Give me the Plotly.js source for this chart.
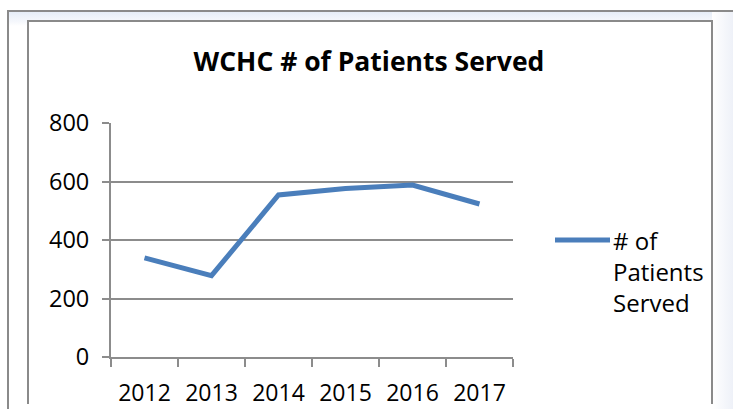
<!DOCTYPE html>
<html>
<head>
<meta charset="utf-8">
<script src="https://cdn.plot.ly/plotly-3.0.1.min.js"></script>
<style>
  html, body { margin: 0; padding: 0; background: #ffffff; width: 733px; height: 409px; overflow: hidden; }
  #outer { position: absolute; left: 7px; top: 10px; width: 740px; height: 420px;
           border-left: 2px solid #8a8a8a; border-top: 2px solid #8a8a8a;
           background: linear-gradient(to bottom, #e6edf7 0px, #f6f8fc 10px, #ffffff 14px); }
  #rightband { position: absolute; left: 712px; top: 12px; width: 21px; height: 400px;
           background: linear-gradient(to right, #ffffff, #eef1f8); }
  #inner { position: absolute; left: 27px; top: 20px; width: 682px; height: 382px;
           border: 2px solid #8a8a8a; border-bottom: none; background: #ffffff; }
  #chart { position: absolute; left: 0; top: 0; width: 733px; height: 409px; }
</style>
</head>
<body>
<div id="outer"></div>
<div id="rightband"></div>
<div id="inner"></div>
<div id="chart"></div>
<script>
const years = ["2012", "2013", "2014", "2015", "2016", "2017"];
const patientsServed = [339, 278, 554, 576, 588, 523];
const yTicks = [0, 200, 400, 600, 800];
const seriesName = "# of<br>Patients<br>Served";
const chartTitle = "<b>WCHC # of Patients Served</b>";

const lineColor = "#4a7ebb";
const gridColor = "#8c8c8c";
const fontFamily = "'Open Sans', sans-serif";

const trace = {
  x: years,
  y: patientsServed,
  type: "scatter",
  mode: "lines",
  name: seriesName,
  line: { color: lineColor, width: 5 },
  showlegend: false,
  hoverinfo: "x+y"
};

const layout = {
  width: 733,
  height: 409,
  margin: { l: 111, r: 220, t: 123, b: 52 },
  paper_bgcolor: "rgba(0,0,0,0)",
  plot_bgcolor: "rgba(0,0,0,0)",
  font: { family: fontFamily, color: "#000000", size: 23 },
  title: {
    text: chartTitle,
    font: { family: fontFamily, size: 26.5, color: "#000000" },
    xref: "container", yref: "container",
    x: 369 / 733, xanchor: "center",
    y: 1 - 62 / 409, yanchor: "middle"
  },
  xaxis: {
    type: "category",
    range: [-0.5, years.length - 0.5],
    showgrid: false,
    showline: true,
    linecolor: gridColor,
    linewidth: 2,
    ticks: "outside",
    tickson: "boundaries",
    ticklen: 8,
    tickwidth: 2,
    tickcolor: gridColor,
    tickfont: { family: fontFamily, size: 23, color: "#000000" },
    ticklabelstandoff: 14,
    zeroline: false,
    fixedrange: true
  },
  yaxis: {
    range: [0, 800],
    tickvals: yTicks,
    ticktext: yTicks.map(String),
    showgrid: true,
    gridcolor: gridColor,
    gridwidth: 2,
    showline: true,
    linecolor: gridColor,
    linewidth: 2,
    ticks: "outside",
    ticklen: 7,
    tickwidth: 2,
    tickcolor: gridColor,
    tickfont: { family: fontFamily, size: 23.5, color: "#000000" },
    ticklabelstandoff: 8,
    zeroline: false,
    fixedrange: true
  },
  shapes: [
    { type: "line", xref: "paper", yref: "paper",
      x0: (555 - 111) / 402, x1: (610 - 111) / 402,
      y0: (357 - 240) / 234, y1: (357 - 240) / 234,
      line: { color: lineColor, width: 5 } }
  ],
  annotations: [
    { xref: "paper", yref: "paper",
      x: (611 - 111) / 402, y: (357 - 222) / 234,
      xanchor: "left", yanchor: "top", align: "left",
      text: seriesName, showarrow: false,
      font: { family: fontFamily, size: 24, color: "#000000" } }
  ]
};

Plotly.newPlot("chart", [trace], layout, { displayModeBar: false, staticPlot: true });
</script>
</body>
</html>
